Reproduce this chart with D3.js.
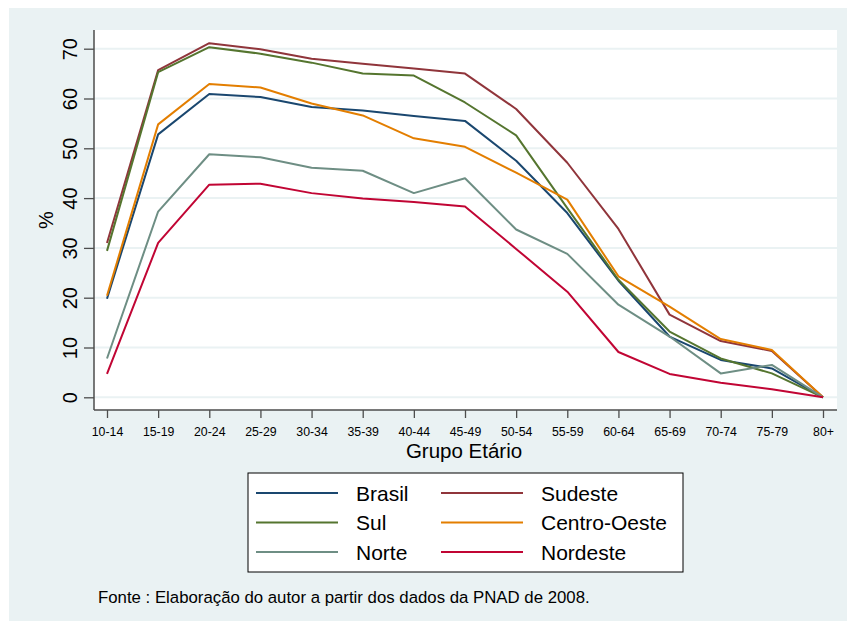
<!DOCTYPE html>
<html>
<head>
<meta charset="utf-8">
<script src="https://cdn.jsdelivr.net/npm/d3@7/dist/d3.min.js"></script>
<style>
  body { margin: 0; background: #fff; }
  svg text { font-family: "Liberation Sans", Arial, sans-serif; fill: #000; }
</style>
</head>
<body>
<svg id="chart" width="847" height="621"></svg>
<script>
const ages = ['10-14', '15-19', '20-24', '25-29', '30-34', '35-39', '40-44',
  '45-49', '50-54', '55-59', '60-64', '65-69', '70-74', '75-79', '80+'];

const brasil      = [19.8, 52.8, 60.9, 60.3, 58.3, 57.6, 56.5, 55.5, 47.5, 37.0, 23.4, 12.2, 7.5, 5.8, 0];
const sudeste     = [31.0, 65.7, 71.1, 69.9, 68.0, 67.0, 66.0, 65.0, 57.9, 47.1, 33.8, 16.6, 11.3, 9.3, 0];
const sul         = [29.4, 65.3, 70.3, 69.0, 67.2, 65.0, 64.6, 59.2, 52.6, 38.0, 23.6, 13.2, 7.8, 4.8, 0];
const centroOeste = [20.4, 54.8, 62.9, 62.2, 59.0, 56.6, 52.0, 50.3, 45.1, 39.7, 24.3, 18.2, 11.7, 9.5, 0];
const norte       = [7.8, 37.3, 48.8, 48.2, 46.1, 45.5, 41.0, 44.0, 33.7, 28.8, 18.6, 12.2, 4.8, 6.5, 0];
const nordeste    = [4.7, 31.0, 42.7, 42.9, 41.0, 39.9, 39.2, 38.3, 29.8, 21.2, 9.1, 4.7, 2.9, 1.6, 0];

const seriesNames = ['Brasil', 'Sudeste', 'Sul', 'Centro-Oeste', 'Norte', 'Nordeste'];
const seriesValues = [brasil, sudeste, sul, centroOeste, norte, nordeste];
const seriesColors = ['#1a476f', '#90353b', '#55752f', '#e37e00', '#6e8e84', '#c10534'];
const yTicks = [0, 10, 20, 30, 40, 50, 60, 70];

const svg = d3.select('#chart');

// graph region (stata style light blue-grey)
svg.append('rect')
  .attr('x', 9).attr('y', 8)
  .attr('width', 838).attr('height', 613)
  .attr('fill', '#eaf2f3');

const plot = { left: 94, top: 30, right: 837, bottom: 410 };

svg.append('rect')
  .attr('x', plot.left).attr('y', plot.top)
  .attr('width', plot.right - plot.left).attr('height', plot.bottom - plot.top)
  .attr('fill', '#fff');

const x = d3.scalePoint().domain(ages).range([107, 823]);
const y = d3.scaleLinear().domain([0, 70]).range([397.3, 48.7]);

// gridlines
svg.append('g')
  .selectAll('line')
  .data(yTicks)
  .enter().append('line')
  .attr('x1', plot.left).attr('x2', plot.right)
  .attr('y1', d => y(d)).attr('y2', d => y(d))
  .attr('stroke', '#eaf2f3')
  .attr('stroke-width', 2);

// y axis
const yAxis = svg.append('g')
  .attr('transform', `translate(${plot.left},0)`)
  .call(d3.axisLeft(y).tickValues(yTicks).tickSize(10).tickSizeOuter(0));
yAxis.select('.domain').remove();
yAxis.selectAll('line').attr('stroke', '#4d4d4d').attr('stroke-width', 1.3);
yAxis.selectAll('text')
  .attr('x', 0).attr('y', 0).attr('dy', 0)
  .attr('transform', 'translate(-17,0) rotate(-90)')
  .attr('text-anchor', 'middle')
  .style('font-size', '20px');

// x axis
const xAxis = svg.append('g')
  .attr('transform', `translate(0,${plot.bottom})`)
  .call(d3.axisBottom(x).tickSize(8).tickSizeOuter(0));
xAxis.select('.domain').remove();
xAxis.selectAll('line').attr('stroke', '#4d4d4d').attr('stroke-width', 1.3);
xAxis.selectAll('text')
  .attr('y', 26).attr('dy', 0)
  .attr('transform', 'scale(0.95,1)')
  .style('font-size', '13px');

// axis lines
svg.append('line')
  .attr('x1', plot.left).attr('x2', plot.left)
  .attr('y1', plot.top).attr('y2', plot.bottom)
  .attr('stroke', '#4d4d4d').attr('stroke-width', 1.5);
svg.append('line')
  .attr('x1', plot.left).attr('x2', plot.right)
  .attr('y1', plot.bottom).attr('y2', plot.bottom)
  .attr('stroke', '#4d4d4d').attr('stroke-width', 1.5);

// axis titles
svg.append('text')
  .attr('transform', 'translate(53,220) rotate(-90)')
  .attr('text-anchor', 'middle')
  .style('font-size', '20px')
  .text('%');

svg.append('text')
  .attr('x', 464).attr('y', 458)
  .attr('text-anchor', 'middle')
  .style('font-size', '20.5px')
  .text('Grupo Etário');

// lines
const line = d3.line()
  .x((d, i) => x(ages[i]))
  .y(d => y(d));

svg.append('g')
  .selectAll('path')
  .data(seriesValues)
  .enter().append('path')
  .attr('d', d => line(d))
  .attr('fill', 'none')
  .attr('stroke', (d, i) => seriesColors[i])
  .attr('stroke-width', 2)
  .attr('stroke-linejoin', 'round');

// legend
const legend = svg.append('g');
legend.append('rect')
  .attr('x', 248).attr('y', 473)
  .attr('width', 435).attr('height', 99)
  .attr('fill', '#fff')
  .attr('stroke', '#000')
  .attr('stroke-width', 1);

const items = legend.selectAll('.item')
  .data(seriesNames)
  .enter().append('g')
  .attr('class', 'item')
  .attr('transform', (d, i) => `translate(${256 + (i % 2) * 185},${493 + Math.floor(i / 2) * 29.5})`);

items.append('line')
  .attr('x1', 0).attr('x2', 82)
  .attr('y1', 0).attr('y2', 0)
  .attr('stroke', (d, i) => seriesColors[i])
  .attr('stroke-width', 2);

items.append('text')
  .attr('x', 100).attr('y', 7.5)
  .style('font-size', '21px')
  .text(d => d);

// source note
svg.append('text')
  .attr('x', 98).attr('y', 603)
  .style('font-size', '16.8px')
  .text('Fonte : Elaboração do autor a partir dos dados da PNAD de 2008.');
</script>
</body>
</html>
